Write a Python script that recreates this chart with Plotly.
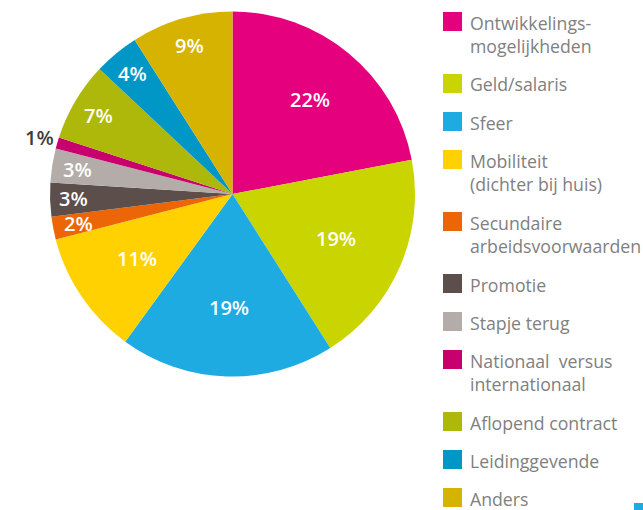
import math
import plotly.graph_objects as go

labels = ["Ontwikkelings-<br>mogelijkheden", "Geld/salaris", "Sfeer", "Mobiliteit<br>(dichter bij huis)",
          "Secundaire<br>arbeidsvoorwaarden", "Promotie", "Stapje terug", "Nationaal  versus<br>internationaal",
          "Aflopend contract", "Leidinggevende", "Anders"]
values = [22, 19, 19, 11, 2, 3, 3, 1, 7, 4, 9]
colors = ["#E5007D", "#C9D400", "#1DABE2", "#FFD100", "#EC6608", "#5C4F4B", "#B3ACA8",
          "#C8006E", "#AEB80B", "#0096C5", "#D6B300"]
# label radius as a fraction of the pie radius (style)
label_r = [0.67, 0.62, 0.62, 0.63, 0.86, 0.87, 0.86, 1.10, 0.85, 0.86, 0.85]

W, H = 643, 510
cx, cy, R = 232.5, 194, 182.5

fig = go.Figure(go.Pie(
    labels=[l.replace("<br>", " ") for l in labels], values=values, sort=False, direction="clockwise", rotation=0,
    marker=dict(colors=colors, line=dict(width=0)), textinfo="none", hoverinfo="label+percent",
    domain=dict(x=[(cx - R) / W, (cx + R) / W], y=[1 - (cy + R) / H, 1 - (cy - R) / H]),
    showlegend=False,
))

total = sum(values)
cum = 0
annotations = []
shapes = []
for i, v in enumerate(values):
    mid = (cum + v / 2) / total * 2 * math.pi
    cum += v
    r = label_r[i] * R
    x = cx + r * math.sin(mid)
    y = cy - r * math.cos(mid)
    outside = label_r[i] > 1
    annotations.append(dict(
        x=x / W, y=1 - y / H, xref="paper", yref="paper", text=f"{v}%", showarrow=False,
        font=dict(family="Open Sans", size=20, weight=600, color="#3C3C3C" if outside else "white"),
        xanchor="center", yanchor="middle"))

# custom legend
sq = 19
tops = [12, 74, 112, 150, 212, 274, 312, 350, 412, 450, 488]
for i, lab in enumerate(labels):
    t = tops[i]
    shapes.append(dict(type="rect", xref="paper", yref="paper",
                       x0=443 / W, x1=(443 + sq) / W, y0=1 - (t + sq) / H, y1=1 - t / H,
                       fillcolor=colors[i], line=dict(width=0)))
    annotations.append(dict(
        x=468 / W, y=1 - (t - 3.5) / H, xref="paper", yref="paper", text=lab, showarrow=False,
        xanchor="left", yanchor="top", align="left",
        font=dict(family="Open Sans", size=17.7, color="#808080")))

shapes.append(dict(type="rect", xref="paper", yref="paper", x0=634 / W, x1=1, y0=0, y1=7 / H,
                   fillcolor="#1DABE2", line=dict(width=0)))

fig.update_layout(width=W, height=H, margin=dict(l=0, r=0, t=0, b=0),
                  paper_bgcolor="white", plot_bgcolor="white",
                  annotations=annotations, shapes=shapes)
fig.write_html("out.html", config={"displayModeBar": False},
               post_script="document.body.style.margin='0';document.body.style.overflow='hidden';")
